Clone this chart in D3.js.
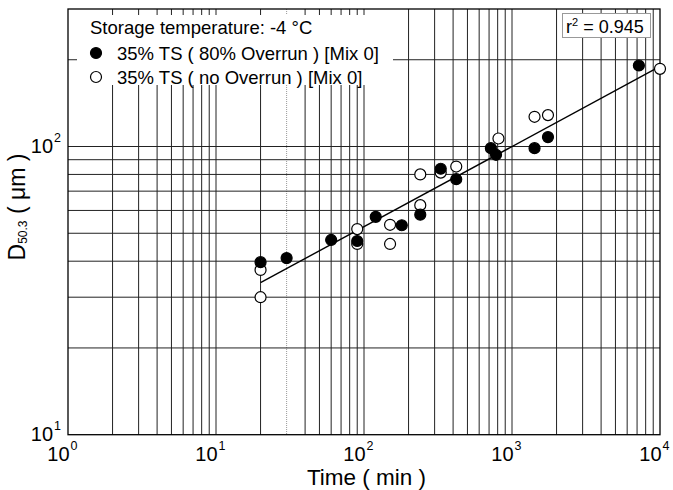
<!DOCTYPE html>
<html><head><meta charset="utf-8">
<script src="https://cdn.jsdelivr.net/npm/d3@7"></script>
<style>
body{margin:0;background:#fff;}
svg{display:block;font-family:"Liberation Sans",Arial,Helvetica,sans-serif;}
</style></head>
<body><svg id="c" width="673" height="490"></svg>
<script>
// ---- data ----
const filledTime = [20, 30, 60, 90, 120, 180, 240, 330, 420, 720, 780, 1420, 1750, 7200];
const filledD    = [39.7, 41, 47.4, 47, 57, 53.3, 58, 83.7, 77, 98.7, 93.6, 98.7, 107.8, 191];
const openTime   = [20, 20, 90, 90, 150, 150, 240, 240, 330, 420, 810, 1420, 1750, 10000];
const openD      = [37.3, 30, 51.7, 45.9, 53.5, 45.9, 80, 62.6, 81.2, 85.2, 106.6, 126.8, 128.5, 186];
const fitTime    = [20, 10000];
const fitD       = [33.7, 189.6];
const xTickValues = [1, 10, 100, 1000, 10000];
const xTickExps   = ["0", "1", "2", "3", "4"];
const yTickValues = [10, 100];
const yTickExps   = ["1", "2"];
const legendTitle = "Storage temperature: -4 \u00B0C";
const seriesNames = ["35% TS ( 80% Overrun ) [Mix 0]", "35% TS ( no Overrun ) [Mix 0]"];
const r2Label = "0.945";

// ---- chart ----
const svg = d3.select("#c");
const L = 68, R = 660, T = 9, B = 434.7;
const x = d3.scaleLog().domain([1, 1e4]).range([L, R]);
const y = d3.scaleLog().domain([10, 300]).range([B, T]);

// gridlines
const gx = x.ticks().filter(v => v > 1 && v < 1e4);
const gy = y.ticks().filter(v => v > 10 && v < 300);
const grid = svg.append("g");
grid.selectAll("line.vx").data(gx).join("line")
  .attr("x1", d => x(d)).attr("x2", d => x(d)).attr("y1", T).attr("y2", B)
  .attr("stroke", d => d === 30 ? "#999" : "#222")
  .attr("stroke-dasharray", d => d === 30 ? "1,1" : null)
  .attr("stroke-width", 1);
grid.selectAll("line.hy").data(gy).join("line")
  .attr("y1", d => y(d)).attr("y2", d => y(d)).attr("x1", L).attr("x2", R)
  .attr("stroke", "#222").attr("stroke-width", 1);

// legend background (hides gridlines)
svg.append("rect").attr("x", 77).attr("y", 15).attr("width", 316).attr("height", 70).attr("fill", "#fff");
// r2 box
svg.append("rect").attr("x", 562.5).attr("y", 13.5).attr("width", 88).attr("height", 24)
  .attr("fill", "#fff").attr("stroke", "#999").attr("stroke-width", 1);

// frame
svg.append("rect").attr("x", L).attr("y", T).attr("width", R - L).attr("height", B - T)
  .attr("fill", "none").attr("stroke", "#000").attr("stroke-width", 1.3);

// axes (labels only)
const xa = svg.append("g").attr("transform", `translate(0,${B})`)
  .call(d3.axisBottom(x).tickValues(xTickValues).tickSize(0).tickPadding(0).tickFormat(() => "10"));
xa.select(".domain").remove();
xa.selectAll("text").attr("font-size", 20).attr("fill", "#000")
  .attr("text-anchor", "end").attr("dy", null).attr("y", 26.5)
  .attr("font-family", null)
  .each(function(d, i) {
    d3.select(this).append("tspan").attr("font-size", 12.5).attr("dy", -11).attr("dx", 1).text(xTickExps[i]);
  });
xa.selectAll(".tick text").attr("x", 9);

const ya = svg.append("g").attr("transform", `translate(${L},0)`)
  .call(d3.axisLeft(y).tickValues(yTickValues).tickSize(0).tickPadding(0).tickFormat(() => "10"));
ya.select(".domain").remove();
ya.selectAll("text").attr("font-size", 20).attr("fill", "#000")
  .attr("font-family", null)
  .attr("text-anchor", "end").attr("x", -7).attr("dy", null).attr("y", 6)
  .each(function(d, i) {
    d3.select(this).append("tspan").attr("font-size", 12.5).attr("dy", -11).attr("dx", 1).text(yTickExps[i]);
  });

// axis titles
svg.append("text").attr("x", 366.5).attr("y", 485).attr("text-anchor", "middle")
  .attr("font-size", 22.5).text("Time ( min )");
const yt = svg.append("text").attr("transform", "translate(25,207) rotate(-90)")
  .attr("text-anchor", "middle").attr("font-size", 23);
yt.append("tspan").text("D");
yt.append("tspan").attr("font-size", 12).attr("dy", 2).text("50.3");
yt.append("tspan").attr("dy", -2).text(" ( \u03BCm )");

// regression line
svg.append("path")
  .attr("d", d3.line().x(d => x(d[0])).y(d => y(d[1]))(d3.zip(fitTime, fitD)))
  .attr("fill", "none").attr("stroke", "#000").attr("stroke-width", 1.4);

// points
const rr = 5.5;
svg.append("g").selectAll("circle").data(d3.zip(openTime, openD)).join("circle")
  .attr("cx", d => x(d[0])).attr("cy", d => y(d[1])).attr("r", rr)
  .attr("fill", "#fff").attr("stroke", "#000").attr("stroke-width", 1.2);
svg.append("g").selectAll("circle").data(d3.zip(filledTime, filledD)).join("circle")
  .attr("cx", d => x(d[0])).attr("cy", d => y(d[1])).attr("r", rr)
  .attr("fill", "#000").attr("stroke", "#000").attr("stroke-width", 1.2);

// legend
svg.append("text").attr("x", 90).attr("y", 34).attr("font-size", 18.5).text(legendTitle);
const lg = svg.append("g");
[0, 1].forEach(i => {
  const cy = 53 + i * 24;
  lg.append("circle").attr("cx", 96).attr("cy", cy).attr("r", rr)
    .attr("fill", i === 0 ? "#000" : "#fff").attr("stroke", "#000").attr("stroke-width", 1.2);
  lg.append("text").attr("x", 117).attr("y", cy + 6.5).attr("font-size", 18.5).text(seriesNames[i]);
});

// r2 label
const rt = svg.append("text").attr("x", 566).attr("y", 33).attr("font-size", 18);
rt.append("tspan").text("r");
rt.append("tspan").attr("font-size", 11).attr("dy", -7).text("2");
rt.append("tspan").attr("dy", 7).text(" = " + r2Label);
</script></body></html>
